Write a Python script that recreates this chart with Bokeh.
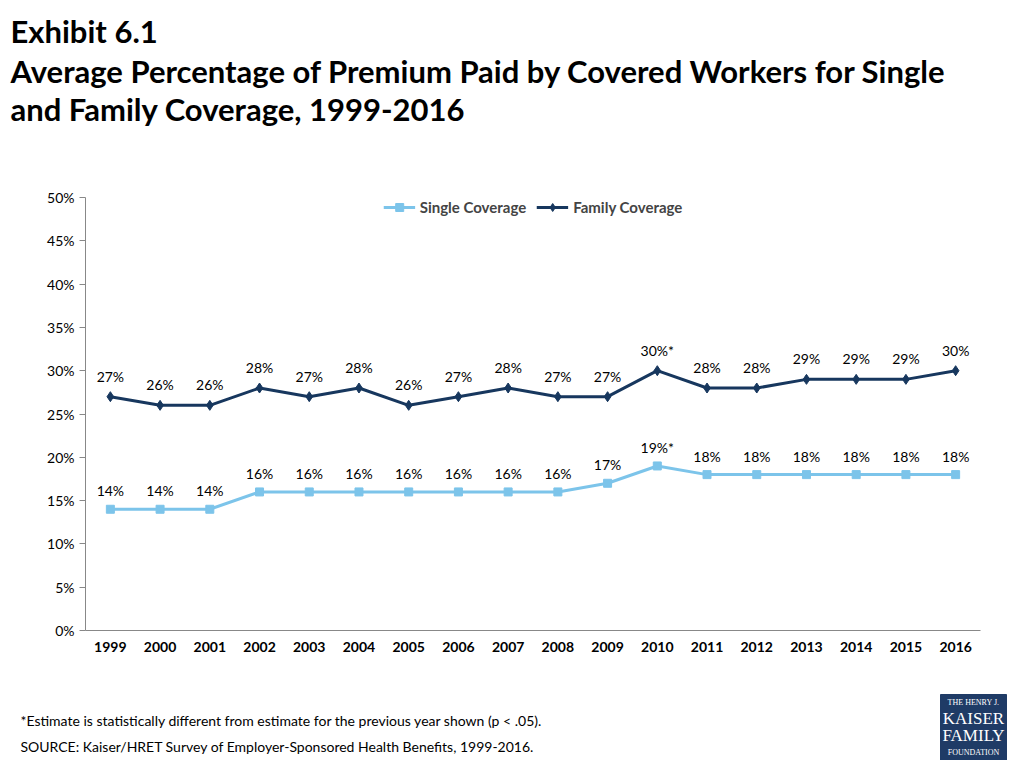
from bokeh.plotting import figure
from bokeh.layouts import column, row
from bokeh.models import FactorRange, Range1d, LabelSet, ColumnDataSource, NumeralTickFormatter, Legend
from bokeh.core.properties import value
from bokeh.embed import file_html
from bokeh.resources import INLINE

years = [str(y) for y in range(1999, 2017)]
single = [14, 14, 14, 16, 16, 16, 16, 16, 16, 16, 17, 19, 18, 18, 18, 18, 18, 18]
family = [27, 26, 26, 28, 27, 28, 26, 27, 28, 27, 27, 30, 28, 28, 29, 29, 29, 30]
single_lbl = [f"{v}%" for v in single]; single_lbl[11] = "19%*"
family_lbl = [f"{v}%" for v in family]; family_lbl[11] = "30%*"
title_lines = ["Exhibit 6.1",
               "Average Percentage of Premium Paid by Covered Workers for Single",
               "and Family Coverage, 1999-2016"]
notes = ["*Estimate is statistically different from estimate for the previous year shown (p < .05).",
         "SOURCE:  Kaiser/HRET Survey of Employer-Sponsored Health Benefits, 1999-2016."]

F = "Lato"
W = 1008
L, R = 85, 980

def blank(h):
    f = figure(width=W, height=h, x_range=Range1d(0, W), y_range=Range1d(h, 0),
               output_backend="svg", toolbar_location=None, min_border=0)
    f.axis.visible = False; f.grid.visible = False; f.outline_line_color = None
    return f

top = blank(160)
top.text(x=[10, 10, 10], y=[30, 70, 108], text=title_lines, text_font=value(F),
         text_font_size="31px", text_font_style="bold", text_baseline="middle", text_color="#000000")

src = ColumnDataSource(dict(x=years, s=[v/100 for v in single], f=[v/100 for v in family],
                            sl=single_lbl, fl=family_lbl))
p = figure(width=W, height=520, x_range=FactorRange(*years, range_padding=0),
           y_range=Range1d(0, 0.5), output_backend="svg", toolbar_location=None,
           min_border_left=L, min_border_top=37, min_border_right=W - R, min_border_bottom=50)
p.outline_line_color = None
p.grid.visible = False
p.yaxis.formatter = NumeralTickFormatter(format="0%")
p.yaxis.ticker = [i/100 for i in range(0, 51, 5)]
p.yaxis.minor_tick_line_color = None
p.yaxis.major_tick_out = 6; p.yaxis.major_tick_in = 0
for ax in (p.xaxis, p.yaxis):
    ax.axis_line_color = "#888888"; ax.major_tick_line_color = "#888888"
    ax.major_label_text_font = F; ax.major_label_text_font_size = "14px"
    ax.major_label_text_color = "#000000"
p.xaxis.major_label_text_font_style = "bold"
p.xaxis.major_tick_line_color = None

SC, FC = "#7cc4ea", "#17375e"
l1 = p.line("x", "s", source=src, color=SC, line_width=3)
m1 = p.scatter("x", "s", source=src, marker="square", size=8, color=SC)
l2 = p.line("x", "f", source=src, color=FC, line_width=3)
m2 = p.scatter("x", "f", source=src, marker="diamond", size=10, color=FC)
leg = Legend(items=[("Single Coverage", [l1, m1]), ("Family Coverage", [l2, m2])],
             orientation="horizontal", location="top_center", border_line_color=None,
             background_fill_alpha=0, label_text_font=F, label_text_font_style="bold",
             label_text_font_size="15px", glyph_width=32, spacing=10, margin=0, padding=0)
p.add_layout(leg)
for col, lab, off in (("s", "sl", 10), ("f", "fl", 12)):
    p.add_layout(LabelSet(x="x", y=col, text=lab, source=src, text_align="center",
                          y_offset=off, text_font=value(F), text_font_size="14px", text_color="#000000"))

bot = blank(80)
bot.text(x=[20, 20], y=[40, 66], text=notes, text_font=value(F), text_font_size="14px",
         text_baseline="middle", text_color="#000000")
bot.quad(left=[940], right=[1006], top=[14], bottom=[80], color="#1f3b66")
bot.text(x=[973, 973, 973, 973], y=[22, 38, 55, 72],
         text=["THE HENRY J.", "KAISER", "FAMILY", "FOUNDATION"],
         text_font=value("Liberation Serif"), text_font_size=["8px", "17px", "17px", "8px"],
         text_align="center", text_baseline="middle", text_color="white")

open("out.html", "w").write(file_html(column(row(top), p, row(bot), spacing=0), INLINE))
